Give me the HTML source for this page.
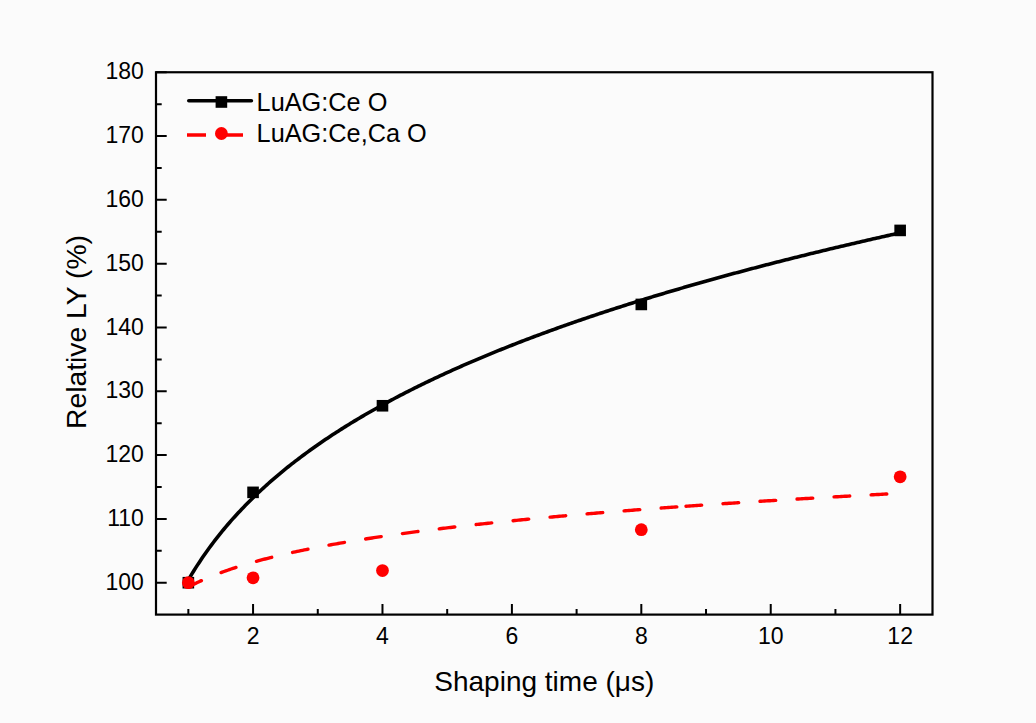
<!DOCTYPE html>
<html><head><meta charset="utf-8"><title>Relative LY vs Shaping time</title>
<style>html,body{margin:0;padding:0;background:#fbfbfb;}svg{display:block;}</style></head>
<body><svg width="1036" height="723" viewBox="0 0 1036 723">
<rect x="0" y="0" width="1036" height="723" fill="#fbfbfb"/>
<path d="M156.0,582.70H166.70M156.0,518.89H166.70M156.0,455.09H166.70M156.0,391.28H166.70M156.0,327.47H166.70M156.0,263.67H166.70M156.0,199.86H166.70M156.0,136.06H166.70M156.0,72.25H166.70M156.0,550.79H161.70M156.0,486.99H161.70M156.0,423.18H161.70M156.0,359.38H161.70M156.0,295.57H161.70M156.0,231.76H161.70M156.0,167.96H161.70M156.0,104.15H161.70M253.06,614.6V603.90M382.48,614.6V603.90M511.90,614.6V603.90M641.31,614.6V603.90M770.73,614.6V603.90M900.15,614.6V603.90M188.35,614.6V608.90M317.77,614.6V608.90M447.19,614.6V608.90M576.60,614.6V608.90M706.02,614.6V608.90M835.44,614.6V608.90" stroke="#000" stroke-width="2.0" fill="none"/>
<rect x="156.0" y="72.25" width="776.50" height="542.35" stroke="#000" stroke-width="2.2" fill="none"/>
<text x="143.9" y="589.90" font-family="Liberation Sans" font-size="23" text-anchor="end">100</text>
<text x="143.9" y="526.09" font-family="Liberation Sans" font-size="23" text-anchor="end">110</text>
<text x="143.9" y="462.29" font-family="Liberation Sans" font-size="23" text-anchor="end">120</text>
<text x="143.9" y="398.48" font-family="Liberation Sans" font-size="23" text-anchor="end">130</text>
<text x="143.9" y="334.67" font-family="Liberation Sans" font-size="23" text-anchor="end">140</text>
<text x="143.9" y="270.87" font-family="Liberation Sans" font-size="23" text-anchor="end">150</text>
<text x="143.9" y="207.06" font-family="Liberation Sans" font-size="23" text-anchor="end">160</text>
<text x="143.9" y="143.26" font-family="Liberation Sans" font-size="23" text-anchor="end">170</text>
<text x="143.9" y="79.45" font-family="Liberation Sans" font-size="23" text-anchor="end">180</text>
<text x="253.06" y="643.5" font-family="Liberation Sans" font-size="23" text-anchor="middle">2</text>
<text x="382.48" y="643.5" font-family="Liberation Sans" font-size="23" text-anchor="middle">4</text>
<text x="511.90" y="643.5" font-family="Liberation Sans" font-size="23" text-anchor="middle">6</text>
<text x="641.31" y="643.5" font-family="Liberation Sans" font-size="23" text-anchor="middle">8</text>
<text x="770.73" y="643.5" font-family="Liberation Sans" font-size="23" text-anchor="middle">10</text>
<text x="900.15" y="643.5" font-family="Liberation Sans" font-size="23" text-anchor="middle">12</text>
<text x="544.3" y="691.0" font-family="Liberation Sans" font-size="28" text-anchor="middle">Shaping time (&#956;s)</text>
<text transform="translate(86.4,332.0) rotate(-90)" font-family="Liberation Sans" font-size="28.3" text-anchor="middle">Relative LY (%)</text>
<path d="M188.35,579.95 L190.14,576.91 L191.92,573.93 L193.71,571.02 L195.49,568.17 L197.27,565.37 L199.06,562.64 L200.84,559.95 L202.63,557.31 L204.41,554.73 L206.19,552.19 L207.98,549.69 L209.76,547.24 L211.55,544.83 L213.33,542.46 L215.11,540.13 L216.90,537.84 L218.68,535.58 L220.47,533.36 L222.25,531.17 L224.03,529.01 L225.82,526.88 L227.60,524.79 L229.38,522.72 L231.17,520.68 L232.95,518.67 L234.74,516.69 L236.52,514.74 L238.30,512.80 L240.09,510.90 L241.87,509.02 L243.66,507.16 L245.44,505.32 L247.22,503.50 L249.01,501.71 L250.79,499.94 L252.58,498.19 L254.36,496.46 L256.14,494.74 L257.93,493.05 L259.71,491.38 L261.50,489.72 L263.28,488.08 L265.06,486.46 L266.85,484.85 L268.63,483.26 L270.42,481.69 L272.20,480.13 L273.98,478.59 L275.77,477.07 L277.55,475.55 L279.34,474.06 L281.12,472.57 L282.90,471.10 L284.69,469.65 L286.47,468.20 L288.25,466.77 L290.04,465.36 L291.82,463.95 L293.61,462.56 L295.39,461.18 L297.17,459.81 L298.96,458.45 L300.74,457.11 L302.53,455.77 L304.31,454.45 L306.09,453.14 L307.88,451.84 L309.66,450.54 L311.45,449.26 L313.23,447.99 L315.01,446.73 L316.80,445.48 L318.58,444.23 L320.37,443.00 L322.15,441.78 L323.93,440.56 L325.72,439.35 L327.50,438.16 L329.29,436.97 L331.07,435.79 L332.85,434.62 L334.64,433.45 L336.42,432.30 L338.21,431.15 L339.99,430.01 L341.77,428.88 L343.56,427.75 L345.34,426.64 L347.12,425.53 L348.91,424.43 L350.69,423.33 L352.48,422.24 L354.26,421.16 L356.04,420.09 L357.83,419.02 L359.61,417.96 L361.40,416.91 L363.18,415.86 L364.96,414.82 L366.75,413.78 L368.53,412.75 L370.32,411.73 L372.10,410.72 L373.88,409.71 L375.67,408.70 L377.45,407.70 L379.24,406.71 L381.02,405.72 L382.80,404.74 L384.59,403.77 L386.37,402.80 L388.16,401.83 L389.94,400.87 L391.72,399.92 L393.51,398.97 L395.29,398.02 L397.08,397.09 L398.86,396.15 L400.64,395.22 L402.43,394.30 L404.21,393.38 L405.99,392.47 L407.78,391.56 L409.56,390.65 L411.35,389.75 L413.13,388.86 L414.91,387.97 L416.70,387.08 L418.48,386.20 L420.27,385.32 L422.05,384.45 L423.83,383.58 L425.62,382.72 L427.40,381.85 L429.19,381.00 L430.97,380.15 L432.75,379.30 L434.54,378.45 L436.32,377.61 L438.11,376.78 L439.89,375.95 L441.67,375.12 L443.46,374.29 L445.24,373.47 L447.03,372.66 L448.81,371.84 L450.59,371.03 L452.38,370.23 L454.16,369.43 L455.95,368.63 L457.73,367.83 L459.51,367.04 L461.30,366.25 L463.08,365.47 L464.86,364.69 L466.65,363.91 L468.43,363.13 L470.22,362.36 L472.00,361.59 L473.78,360.83 L475.57,360.07 L477.35,359.31 L479.14,358.55 L480.92,357.80 L482.70,357.05 L484.49,356.31 L486.27,355.56 L488.06,354.82 L489.84,354.09 L491.62,353.35 L493.41,352.62 L495.19,351.89 L496.98,351.17 L498.76,350.45 L500.54,349.73 L502.33,349.01 L504.11,348.30 L505.90,347.58 L507.68,346.88 L509.46,346.17 L511.25,345.47 L513.03,344.77 L514.82,344.07 L516.60,343.37 L518.38,342.68 L520.17,341.99 L521.95,341.30 L523.73,340.62 L525.52,339.94 L527.30,339.26 L529.09,338.58 L530.87,337.90 L532.65,337.23 L534.44,336.56 L536.22,335.89 L538.01,335.23 L539.79,334.57 L541.57,333.90 L543.36,333.25 L545.14,332.59 L546.93,331.94 L548.71,331.29 L550.49,330.64 L552.28,329.99 L554.06,329.34 L555.85,328.70 L557.63,328.06 L559.41,327.42 L561.20,326.79 L562.98,326.15 L564.77,325.52 L566.55,324.89 L568.33,324.26 L570.12,323.64 L571.90,323.02 L573.68,322.39 L575.47,321.78 L577.25,321.16 L579.04,320.54 L580.82,319.93 L582.60,319.32 L584.39,318.71 L586.17,318.10 L587.96,317.50 L589.74,316.89 L591.52,316.29 L593.31,315.69 L595.09,315.09 L596.88,314.50 L598.66,313.90 L600.44,313.31 L602.23,312.72 L604.01,312.13 L605.80,311.54 L607.58,310.96 L609.36,310.38 L611.15,309.79 L612.93,309.21 L614.72,308.64 L616.50,308.06 L618.28,307.48 L620.07,306.91 L621.85,306.34 L623.64,305.77 L625.42,305.20 L627.20,304.64 L628.99,304.07 L630.77,303.51 L632.55,302.95 L634.34,302.39 L636.12,301.83 L637.91,301.27 L639.69,300.72 L641.47,300.17 L643.26,299.61 L645.04,299.06 L646.83,298.52 L648.61,297.97 L650.39,297.42 L652.18,296.88 L653.96,296.34 L655.75,295.80 L657.53,295.26 L659.31,294.72 L661.10,294.18 L662.88,293.65 L664.67,293.11 L666.45,292.58 L668.23,292.05 L670.02,291.52 L671.80,290.99 L673.59,290.47 L675.37,289.94 L677.15,289.42 L678.94,288.90 L680.72,288.38 L682.51,287.86 L684.29,287.34 L686.07,286.82 L687.86,286.31 L689.64,285.79 L691.42,285.28 L693.21,284.77 L694.99,284.26 L696.78,283.75 L698.56,283.24 L700.34,282.74 L702.13,282.23 L703.91,281.73 L705.70,281.22 L707.48,280.72 L709.26,280.22 L711.05,279.73 L712.83,279.23 L714.62,278.73 L716.40,278.24 L718.18,277.74 L719.97,277.25 L721.75,276.76 L723.54,276.27 L725.32,275.78 L727.10,275.29 L728.89,274.81 L730.67,274.32 L732.46,273.84 L734.24,273.36 L736.02,272.88 L737.81,272.39 L739.59,271.92 L741.38,271.44 L743.16,270.96 L744.94,270.48 L746.73,270.01 L748.51,269.54 L750.29,269.06 L752.08,268.59 L753.86,268.12 L755.65,267.65 L757.43,267.18 L759.21,266.72 L761.00,266.25 L762.78,265.79 L764.57,265.32 L766.35,264.86 L768.13,264.40 L769.92,263.94 L771.70,263.48 L773.49,263.02 L775.27,262.56 L777.05,262.11 L778.84,261.65 L780.62,261.20 L782.41,260.74 L784.19,260.29 L785.97,259.84 L787.76,259.39 L789.54,258.94 L791.33,258.49 L793.11,258.04 L794.89,257.60 L796.68,257.15 L798.46,256.71 L800.25,256.26 L802.03,255.82 L803.81,255.38 L805.60,254.94 L807.38,254.50 L809.16,254.06 L810.95,253.62 L812.73,253.19 L814.52,252.75 L816.30,252.32 L818.08,251.88 L819.87,251.45 L821.65,251.02 L823.44,250.58 L825.22,250.15 L827.00,249.72 L828.79,249.30 L830.57,248.87 L832.36,248.44 L834.14,248.02 L835.92,247.59 L837.71,247.17 L839.49,246.74 L841.28,246.32 L843.06,245.90 L844.84,245.48 L846.63,245.06 L848.41,244.64 L850.20,244.22 L851.98,243.80 L853.76,243.39 L855.55,242.97 L857.33,242.56 L859.12,242.14 L860.90,241.73 L862.68,241.32 L864.47,240.91 L866.25,240.50 L868.03,240.09 L869.82,239.68 L871.60,239.27 L873.39,238.86 L875.17,238.46 L876.95,238.05 L878.74,237.64 L880.52,237.24 L882.31,236.84 L884.09,236.43 L885.87,236.03 L887.66,235.63 L889.44,235.23 L891.23,234.83 L893.01,234.43 L894.79,234.03 L896.58,233.64 L898.36,233.24 L900.15,232.85" stroke="#000" stroke-width="3.6" fill="none" stroke-linejoin="round"/>
<rect x="182.55" y="576.90" width="11.6" height="11.6" fill="#000"/>
<rect x="247.26" y="486.55" width="11.6" height="11.6" fill="#000"/>
<rect x="376.68" y="399.96" width="11.6" height="11.6" fill="#000"/>
<rect x="635.51" y="298.64" width="11.6" height="11.6" fill="#000"/>
<rect x="894.35" y="224.62" width="11.6" height="11.6" fill="#000"/>
<path d="M188.35,587.15 L190.14,586.19 L191.92,585.26 L193.71,584.35 L195.49,583.46 L197.27,582.59 L199.06,581.74 L200.84,580.91 L202.63,580.09 L204.41,579.30 L206.19,578.52 L207.98,577.75 L209.76,577.01 L211.55,576.27 L213.33,575.55 L215.11,574.84 L216.90,574.15 L218.68,573.47 L220.47,572.80 L222.25,572.14 L224.03,571.50 L225.82,570.86 L227.60,570.23 L229.38,569.62 L231.17,569.01 L232.95,568.42 L234.74,567.83 L236.52,567.25 L238.30,566.68 L240.09,566.12 L241.87,565.57 L243.66,565.02 L245.44,564.48 L247.22,563.95 L249.01,563.43 L250.79,562.91 L252.58,562.40 L254.36,561.90 L256.14,561.40 L257.93,560.91 L259.71,560.43 L261.50,559.95 L263.28,559.48 L265.06,559.01 L266.85,558.55 L268.63,558.09 L270.42,557.64 L272.20,557.20 L273.98,556.76 L275.77,556.32 L277.55,555.89 L279.34,555.47 L281.12,555.04 L282.90,554.63 L284.69,554.21 L286.47,553.81 L288.25,553.40 L290.04,553.00 L291.82,552.61 L293.61,552.21 L295.39,551.83 L297.17,551.44 L298.96,551.06 L300.74,550.68 L302.53,550.31 L304.31,549.94 L306.09,549.57 L307.88,549.21 L309.66,548.85 L311.45,548.50 L313.23,548.14 L315.01,547.79 L316.80,547.44 L318.58,547.10 L320.37,546.76 L322.15,546.42 L323.93,546.09 L325.72,545.75 L327.50,545.42 L329.29,545.10 L331.07,544.77 L332.85,544.45 L334.64,544.13 L336.42,543.81 L338.21,543.50 L339.99,543.19 L341.77,542.88 L343.56,542.57 L345.34,542.27 L347.12,541.96 L348.91,541.66 L350.69,541.37 L352.48,541.07 L354.26,540.78 L356.04,540.49 L357.83,540.20 L359.61,539.91 L361.40,539.63 L363.18,539.34 L364.96,539.06 L366.75,538.78 L368.53,538.50 L370.32,538.23 L372.10,537.96 L373.88,537.68 L375.67,537.41 L377.45,537.15 L379.24,536.88 L381.02,536.62 L382.80,536.35 L384.59,536.09 L386.37,535.83 L388.16,535.58 L389.94,535.32 L391.72,535.07 L393.51,534.81 L395.29,534.56 L397.08,534.31 L398.86,534.06 L400.64,533.82 L402.43,533.57 L404.21,533.33 L405.99,533.09 L407.78,532.84 L409.56,532.61 L411.35,532.37 L413.13,532.13 L414.91,531.90 L416.70,531.66 L418.48,531.43 L420.27,531.20 L422.05,530.97 L423.83,530.74 L425.62,530.51 L427.40,530.29 L429.19,530.06 L430.97,529.84 L432.75,529.62 L434.54,529.40 L436.32,529.18 L438.11,528.96 L439.89,528.74 L441.67,528.52 L443.46,528.31 L445.24,528.09 L447.03,527.88 L448.81,527.67 L450.59,527.46 L452.38,527.25 L454.16,527.04 L455.95,526.83 L457.73,526.62 L459.51,526.42 L461.30,526.22 L463.08,526.01 L464.86,525.81 L466.65,525.61 L468.43,525.41 L470.22,525.21 L472.00,525.01 L473.78,524.81 L475.57,524.62 L477.35,524.42 L479.14,524.22 L480.92,524.03 L482.70,523.84 L484.49,523.65 L486.27,523.45 L488.06,523.26 L489.84,523.08 L491.62,522.89 L493.41,522.70 L495.19,522.51 L496.98,522.33 L498.76,522.14 L500.54,521.96 L502.33,521.77 L504.11,521.59 L505.90,521.41 L507.68,521.23 L509.46,521.05 L511.25,520.87 L513.03,520.69 L514.82,520.51 L516.60,520.34 L518.38,520.16 L520.17,519.98 L521.95,519.81 L523.73,519.63 L525.52,519.46 L527.30,519.29 L529.09,519.12 L530.87,518.94 L532.65,518.77 L534.44,518.60 L536.22,518.44 L538.01,518.27 L539.79,518.10 L541.57,517.93 L543.36,517.77 L545.14,517.60 L546.93,517.43 L548.71,517.27 L550.49,517.11 L552.28,516.94 L554.06,516.78 L555.85,516.62 L557.63,516.46 L559.41,516.30 L561.20,516.14 L562.98,515.98 L564.77,515.82 L566.55,515.66 L568.33,515.50 L570.12,515.35 L571.90,515.19 L573.68,515.03 L575.47,514.88 L577.25,514.72 L579.04,514.57 L580.82,514.42 L582.60,514.26 L584.39,514.11 L586.17,513.96 L587.96,513.81 L589.74,513.66 L591.52,513.51 L593.31,513.36 L595.09,513.21 L596.88,513.06 L598.66,512.91 L600.44,512.77 L602.23,512.62 L604.01,512.47 L605.80,512.33 L607.58,512.18 L609.36,512.04 L611.15,511.89 L612.93,511.75 L614.72,511.60 L616.50,511.46 L618.28,511.32 L620.07,511.18 L621.85,511.04 L623.64,510.89 L625.42,510.75 L627.20,510.61 L628.99,510.47 L630.77,510.33 L632.55,510.20 L634.34,510.06 L636.12,509.92 L637.91,509.78 L639.69,509.65 L641.47,509.51 L643.26,509.37 L645.04,509.24 L646.83,509.10 L648.61,508.97 L650.39,508.83 L652.18,508.70 L653.96,508.57 L655.75,508.43 L657.53,508.30 L659.31,508.17 L661.10,508.04 L662.88,507.91 L664.67,507.78 L666.45,507.65 L668.23,507.52 L670.02,507.39 L671.80,507.26 L673.59,507.13 L675.37,507.00 L677.15,506.87 L678.94,506.74 L680.72,506.62 L682.51,506.49 L684.29,506.36 L686.07,506.24 L687.86,506.11 L689.64,505.98 L691.42,505.86 L693.21,505.74 L694.99,505.61 L696.78,505.49 L698.56,505.36 L700.34,505.24 L702.13,505.12 L703.91,504.99 L705.70,504.87 L707.48,504.75 L709.26,504.63 L711.05,504.51 L712.83,504.39 L714.62,504.27 L716.40,504.15 L718.18,504.03 L719.97,503.91 L721.75,503.79 L723.54,503.67 L725.32,503.55 L727.10,503.43 L728.89,503.32 L730.67,503.20 L732.46,503.08 L734.24,502.97 L736.02,502.85 L737.81,502.73 L739.59,502.62 L741.38,502.50 L743.16,502.39 L744.94,502.27 L746.73,502.16 L748.51,502.04 L750.29,501.93 L752.08,501.82 L753.86,501.70 L755.65,501.59 L757.43,501.48 L759.21,501.36 L761.00,501.25 L762.78,501.14 L764.57,501.03 L766.35,500.92 L768.13,500.81 L769.92,500.70 L771.70,500.59 L773.49,500.48 L775.27,500.37 L777.05,500.26 L778.84,500.15 L780.62,500.04 L782.41,499.93 L784.19,499.82 L785.97,499.71 L787.76,499.61 L789.54,499.50 L791.33,499.39 L793.11,499.28 L794.89,499.18 L796.68,499.07 L798.46,498.96 L800.25,498.86 L802.03,498.75 L803.81,498.65 L805.60,498.54 L807.38,498.44 L809.16,498.33 L810.95,498.23 L812.73,498.12 L814.52,498.02 L816.30,497.92 L818.08,497.81 L819.87,497.71 L821.65,497.61 L823.44,497.51 L825.22,497.40 L827.00,497.30 L828.79,497.20 L830.57,497.10 L832.36,497.00 L834.14,496.89 L835.92,496.79 L837.71,496.69 L839.49,496.59 L841.28,496.49 L843.06,496.39 L844.84,496.29 L846.63,496.19 L848.41,496.09 L850.20,496.00 L851.98,495.90 L853.76,495.80 L855.55,495.70 L857.33,495.60 L859.12,495.50 L860.90,495.41 L862.68,495.31 L864.47,495.21 L866.25,495.11 L868.03,495.02 L869.82,494.92 L871.60,494.82 L873.39,494.73 L875.17,494.63 L876.95,494.54 L878.74,494.44 L880.52,494.35 L882.31,494.25 L884.09,494.16 L885.87,494.06 L887.66,493.97 L889.44,493.87 L891.23,493.78 L893.01,493.68 L894.79,493.59 L896.58,493.50 L898.36,493.40 L900.15,493.31" stroke="#ff0000" stroke-width="3.4" fill="none" stroke-linecap="round" stroke-dasharray="14.60 21.30 15.70 21.45 15.70 21.45 15.70 21.45 15.70 21.45 15.70 21.45 15.70 21.45 15.70 21.45 15.70 21.45 15.70 21.45 15.70 21.45 15.70 21.45 15.70 21.45 15.70 9.20 15.70 21.40 15.70 21.40 15.70 21.40 15.70 21.40 15.70 21.40 15.70 200.00"/>
<circle cx="188.35" cy="582.70" r="6.4" fill="#ff0000"/>
<circle cx="253.06" cy="577.78" r="6.4" fill="#ff0000"/>
<circle cx="382.48" cy="570.57" r="6.4" fill="#ff0000"/>
<circle cx="641.31" cy="529.67" r="6.4" fill="#ff0000"/>
<circle cx="900.15" cy="476.84" r="6.4" fill="#ff0000"/>
<path d="M188.8,100.7H251.39999999999998" stroke="#000" stroke-width="3.6" stroke-linecap="round"/>
<rect x="215.60" y="96.20" width="11.6" height="11.6" fill="#000"/>
<path d="M187,135.0H206M224,135.0H243" stroke="#ff0000" stroke-width="3.4"/>
<circle cx="221.40" cy="133.50" r="6.4" fill="#ff0000"/>
<text x="256.6" y="110.7" font-family="Liberation Sans" font-size="25.3">LuAG:Ce O</text>
<text x="256.6" y="142.0" font-family="Liberation Sans" font-size="25.3">LuAG:Ce,Ca O</text>
</svg></body></html>
